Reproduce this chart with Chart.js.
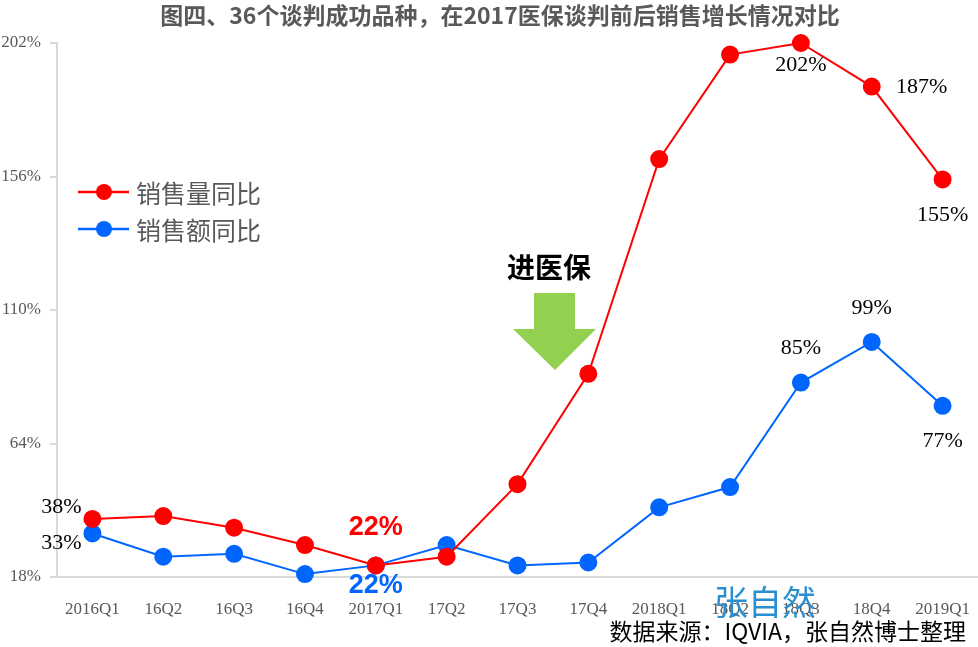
<!DOCTYPE html>
<html>
<head>
<meta charset="utf-8">
<script src="https://cdn.jsdelivr.net/npm/chart.js@4"></script>
<style>
  html, body { margin:0; padding:0; background:#fff; }
  #wrap { width:978px; height:647px; position:relative; }
</style>
</head>
<body>
<div id="wrap"><canvas id="c"></canvas></div>
<script>
// ===== data =====
const quarters = ['2016Q1','16Q2','16Q3','16Q4','2017Q1','17Q2','17Q3','17Q4','2018Q1','18Q2','18Q3','18Q4','2019Q1'];
const volumeYoY = [38, 39, 35, 29, 22, 25, 50, 88, 162, 198, 202, 187, 155];
const salesYoY  = [33, 25, 26, 19, 22, 29, 22, 23, 42, 49, 85, 99, 77];
const yTicks = [18, 64, 110, 156, 202];
const seriesNames = ['销售量同比', '销售额同比'];

// which points get a value label, and where (offset from the point)
const volumeLabels = [
  { i:0,  dx:-31, dy:-12, style:'plain' },
  { i:4,  dx:0,   dy:-38, style:'bold' },
  { i:10, dx:0,   dy:22,  style:'plain' },
  { i:11, dx:50,  dy:1,   style:'plain' },
  { i:12, dx:0,   dy:36,  style:'plain' }
];
const salesLabels = [
  { i:0,  dx:-31, dy:10,  style:'plain' },
  { i:4,  dx:0,   dy:20,  style:'bold' },
  { i:10, dx:0,   dy:-34, style:'plain' },
  { i:11, dx:0,   dy:-34, style:'plain' },
  { i:12, dx:0,   dy:35,  style:'plain' }
];

const RED = '#ff0000', BLUE = '#0066ff', GREY = '#595959', AXIS = '#d9d9d9';
const SERIF = '"Liberation Serif", "DejaVu Serif", serif';
const CJK = '"Noto Sans CJK SC", "Noto Sans", sans-serif';

// ===== extra drawing (title, labels, legend, arrow, notes) =====
const decor = {
  id:'decor',
  afterDatasetsDraw(chart){
    const ctx = chart.ctx;
    const xs = chart.scales.x, ys = chart.scales.y;
    ctx.save();

    // title
    ctx.fillStyle = GREY;
    ctx.font = 'bold 23px ' + CJK;
    ctx.textAlign = 'center'; ctx.textBaseline = 'middle';
    ctx.fillText('图四、36个谈判成功品种，在2017医保谈判前后销售增长情况对比', 500, 15);

    // value labels
    function labels(list, vals, color){
      list.forEach(l => {
        const x = xs.getPixelForValue(l.i) + l.dx;
        const y = ys.getPixelForValue(vals[l.i]) + l.dy;
        if(l.style === 'bold'){
          ctx.font = 'bold 27px "Liberation Sans", Arial, sans-serif';
          ctx.fillStyle = color;
        } else {
          ctx.font = '22px ' + SERIF;
          ctx.fillStyle = '#000';
        }
        ctx.fillText(vals[l.i] + '%', x, y);
      });
    }
    labels(volumeLabels, volumeYoY, RED);
    labels(salesLabels, salesYoY, BLUE);

    // legend
    [[RED, 192], [BLUE, 229]].forEach(([c, y], k) => {
      ctx.strokeStyle = c; ctx.lineWidth = 2.5;
      ctx.beginPath(); ctx.moveTo(78, y); ctx.lineTo(129, y); ctx.stroke();
      ctx.fillStyle = c;
      ctx.beginPath(); ctx.arc(104, y, 8, 0, Math.PI*2); ctx.fill();
      ctx.fillStyle = GREY;
      ctx.font = '25px ' + CJK;
      ctx.textAlign = 'left';
      ctx.fillText(seriesNames[k], 136, y + 1);
    });

    // "进医保" + arrow
    ctx.textAlign = 'center';
    ctx.fillStyle = '#000';
    ctx.font = 'bold 28px ' + CJK;
    ctx.fillText('进医保', 549, 267);
    ctx.fillStyle = '#92d050';
    ctx.beginPath();
    ctx.moveTo(534, 293); ctx.lineTo(575, 293); ctx.lineTo(575, 329);
    ctx.lineTo(596, 329); ctx.lineTo(555, 370); ctx.lineTo(513, 329);
    ctx.lineTo(534, 329); ctx.closePath(); ctx.fill();

    // watermark + source
    ctx.fillStyle = '#2a8fd0';
    ctx.font = '34px ' + CJK;
    ctx.fillText('张自然', 765, 602);
    ctx.fillStyle = '#000';
    ctx.font = '23px ' + CJK;
    ctx.textAlign = 'right';
    ctx.fillText('数据来源：IQVIA，张自然博士整理', 966, 631);

    ctx.restore();
  }
};

new Chart(document.getElementById('c'), {
  type:'line',
  data:{
    labels: quarters,
    datasets:[
      { label:seriesNames[0], data:volumeYoY, borderColor:RED, backgroundColor:RED,
        borderWidth:2, pointRadius:8, pointHoverRadius:8, tension:0, clip:false },
      { label:seriesNames[1], data:salesYoY, borderColor:BLUE, backgroundColor:BLUE,
        borderWidth:2, pointRadius:8, pointHoverRadius:8, tension:0, clip:false }
    ]
  },
  options:{
    responsive:true, maintainAspectRatio:false, animation:false,
    layout:{ autoPadding:false, padding:{ top:43, right:0, bottom:0, left:0 } },
    plugins:{ legend:{ display:false }, title:{ display:false }, tooltip:{ enabled:false } },
    scales:{
      x:{
        offset:true,
        grid:{ display:false },
        border:{ display:true, color:AXIS, width:2 },
        ticks:{ color:GREY, font:{ family:SERIF, size:17 }, padding:14, maxRotation:0, autoSkip:false },
        afterFit(s){ s.height = 70; s.paddingLeft = 0; s.paddingRight = 0; }
      },
      y:{
        min:18, max:202,
        afterBuildTicks(s){ s.ticks = yTicks.map(v => ({ value:v })); },
        grid:{ drawOnChartArea:false, drawTicks:true, tickLength:7, color:AXIS, lineWidth:2 },
        border:{ display:true, color:AXIS, width:2 },
        ticks:{ color:GREY, font:{ family:SERIF, size:17 }, padding:9, callback:v => v + '%' },
        afterFit(s){ s.width = 57; }
      }
    }
  },
  plugins:[decor]
});
</script>
</body>
</html>
